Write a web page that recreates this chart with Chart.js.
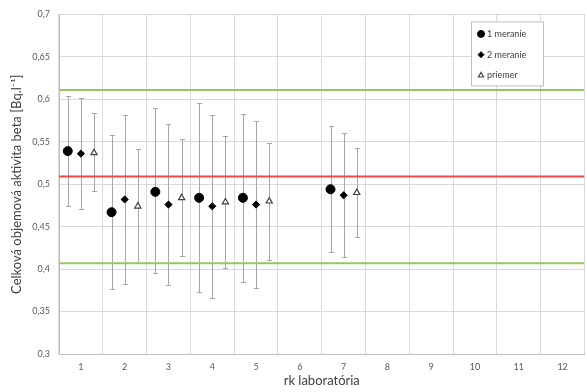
<!DOCTYPE html>
<html>
<head>
<meta charset="utf-8">
<script src="https://cdn.jsdelivr.net/npm/chart.js@4"></script>
<style>
  html, body { margin: 0; padding: 0; background: #fff; overflow: hidden; }
  #wrap { width: 590px; height: 392px; }
</style>
</head>
<body>
<div id="wrap"><canvas id="chart"></canvas></div>
<script>
// lab numbers that reported results
var labs = [1, 2, 3, 4, 5, 7]
var xTicks = [1, 2, 3, 4, 5, 6, 7, 8, 9, 10, 11, 12]

// 1 meranie
var meranie1 = [0.539, 0.467, 0.491, 0.484, 0.484, 0.494]
var meranie1Lo = [0.474, 0.376, 0.395, 0.373, 0.385, 0.420]
var meranie1Hi = [0.604, 0.558, 0.590, 0.596, 0.583, 0.568]

// 2 meranie
var meranie2 = [0.536, 0.482, 0.476, 0.474, 0.476, 0.487]
var meranie2Lo = [0.471, 0.382, 0.381, 0.366, 0.378, 0.414]
var meranie2Hi = [0.602, 0.582, 0.571, 0.582, 0.574, 0.560]

// priemer
var priemer = [0.537, 0.474, 0.484, 0.479, 0.480, 0.490]
var priemerLo = [0.492, 0.407, 0.416, 0.401, 0.411, 0.438]
var priemerHi = [0.584, 0.542, 0.553, 0.557, 0.549, 0.543]

// reference value and +-20% limits
var refValue = 0.509
var limitHi = 0.611
var limitLo = 0.407

var shift = 0.3

function points(vals, lo, hi, dx) {
    return vals.map(function(v, i) {
        return { x: labs[i] + dx, y: v, lo: lo[i], hi: hi[i] }
    })
}
function hline(v) {
    return [{ x: 0.5, y: v }, { x: 12.5, y: v }]
}

// error bars drawn with the chart scales
var errorBars = {
    id: 'errorBars',
    beforeDatasetsDraw: function(chart) {
        var ctx = chart.ctx
        var xs = chart.scales.x, ys = chart.scales.y
        ctx.save()
        ctx.strokeStyle = '#a6a6a6'
        ctx.lineWidth = 1
        chart.data.datasets.forEach(function(ds) {
            if (!ds.errors) return
            ds.data.forEach(function(p) {
                var px = Math.round(xs.getPixelForValue(p.x)) + 0.5
                var top = Math.round(ys.getPixelForValue(p.hi)) + 0.5
                var bot = Math.round(ys.getPixelForValue(p.lo)) + 0.5
                ctx.beginPath()
                ctx.moveTo(px, top); ctx.lineTo(px, bot)
                ctx.moveTo(px - 2.5, top); ctx.lineTo(px + 2.5, top)
                ctx.moveTo(px - 2.5, bot); ctx.lineTo(px + 2.5, bot)
                ctx.stroke()
            })
        })
        ctx.restore()
    }
}

// boxed legend inside the plot, top right
var boxLegend = {
    id: 'boxLegend',
    afterDraw: function(chart) {
        var ctx = chart.ctx
        var a = chart.chartArea
        var bx = a.left + 412, by = a.top + 7, bw = 72, bh = 64
        ctx.save()
        ctx.fillStyle = '#fff'
        ctx.fillRect(bx, by, bw, bh)
        ctx.strokeStyle = '#bfbfbf'
        ctx.lineWidth = 1
        ctx.strokeRect(bx + 0.5, by + 0.5, bw, bh)
        ctx.font = '9px Lato'
        ctx.textBaseline = 'middle'
        var items = chart.data.datasets.filter(function(d) { return d.errors })
        items.forEach(function(ds, i) {
            var cy = by + 12.5 + i * 20.8
            var cx = bx + 10
            ctx.fillStyle = ds.backgroundColor
            ctx.strokeStyle = ds.borderColor
            ctx.lineWidth = ds.borderWidth
            Chart.helpers.drawPoint(ctx, {
                pointStyle: ds.pointStyle,
                radius: ds.legendRadius,
                borderWidth: ds.borderWidth,
                rotation: 0
            }, cx, cy)
            ctx.fillStyle = '#404040'
            ctx.fillText(ds.label, cx + 6, cy)
        })
        ctx.restore()
    }
}

new Chart(document.getElementById('chart'), {
    type: 'scatter',
    data: {
        datasets: [
            {
                type: 'line', label: 'limit hi', data: hline(limitHi),
                borderColor: '#92c95e', borderWidth: 2, pointRadius: 0
            },
            {
                type: 'line', label: 'limit lo', data: hline(limitLo),
                borderColor: '#92c95e', borderWidth: 2, pointRadius: 0
            },
            {
                type: 'line', label: 'ref', data: hline(refValue),
                borderColor: '#f04848', borderWidth: 2, pointRadius: 0
            },
            {
                label: '1 meranie', data: points(meranie1, meranie1Lo, meranie1Hi, -shift),
                errors: true, pointStyle: 'circle', pointRadius: 4.5, legendRadius: 3.5,
                backgroundColor: '#000', borderColor: '#000', borderWidth: 1
            },
            {
                label: '2 meranie', data: points(meranie2, meranie2Lo, meranie2Hi, 0),
                errors: true, pointStyle: 'rectRot', pointRadius: 3.6, legendRadius: 3,
                backgroundColor: '#000', borderColor: '#000', borderWidth: 1
            },
            {
                label: 'priemer', data: points(priemer, priemerLo, priemerHi, shift),
                errors: true, pointStyle: 'triangle', pointRadius: 3.6, legendRadius: 3,
                backgroundColor: '#fff', borderColor: '#404040', borderWidth: 1.2
            }
        ]
    },
    options: {
        responsive: true,
        maintainAspectRatio: false,
        animation: false,
        layout: { padding: { top: 12, right: 1 } },
        plugins: {
            legend: { display: false },
            tooltip: { enabled: false }
        },
        scales: {
            x: {
                type: 'linear',
                min: 0.5,
                max: 12.5,
                afterBuildTicks: function(scale) {
                    scale.ticks = xTicks.map(function(v) { return { value: v } })
                },
                afterFit: function(scale) { scale.height = 38 },
                grid: { offset: true, color: '#d9d9d9', drawTicks: false },
                border: { color: '#bfbfbf' },
                ticks: {
                    padding: 8,
                    color: '#595959',
                    font: { family: 'Lato', size: 9 },
                    maxRotation: 0,
                    autoSkip: false
                },
                title: {
                    display: true,
                    text: 'rk laboratória',
                    color: '#404040',
                    font: { family: 'Lato', size: 13 },
                    padding: { top: 0, bottom: 3 }
                }
            },
            y: {
                min: 0.3,
                max: 0.7,
                afterFit: function(scale) { scale.width = 59 },
                grid: { color: '#d9d9d9', drawTicks: false },
                border: { color: '#bfbfbf' },
                ticks: {
                    stepSize: 0.05,
                    padding: 9,
                    color: '#595959',
                    font: { family: 'Lato', size: 9 },
                    callback: function(v) {
                        return String(Math.round(v * 100) / 100).replace('.', ',')
                    }
                },
                title: {
                    display: true,
                    text: 'Celková objemová aktivita beta [Bq.l⁻¹]',
                    color: '#404040',
                    font: { family: 'Lato', size: 13 },
                    padding: { top: 9, bottom: 0 }
                }
            }
        }
    },
    plugins: [errorBars, boxLegend]
})
</script>
</body>
</html>
